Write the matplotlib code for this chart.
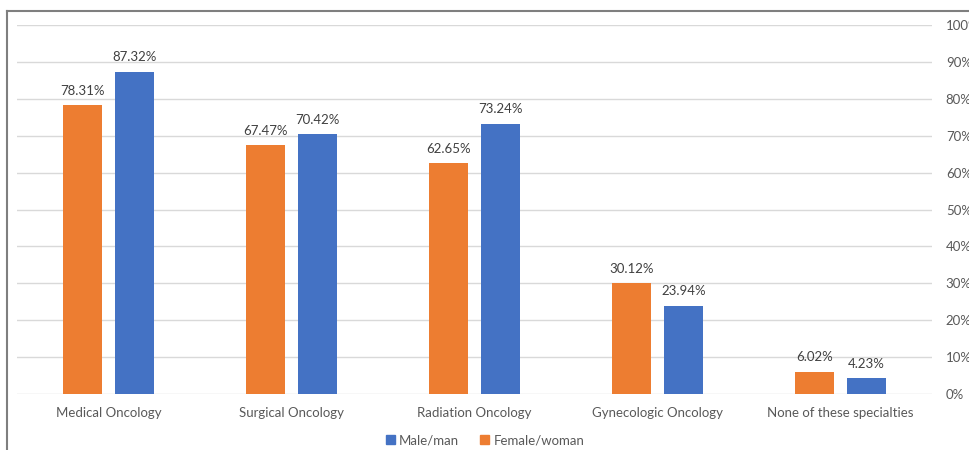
import numpy as np
import matplotlib
matplotlib.use("Agg")
import matplotlib.pyplot as plt
from matplotlib.lines import Line2D
from matplotlib.patches import Patch
from matplotlib.ticker import FuncFormatter

categories = ["Medical Oncology", "Surgical Oncology", "Radiation Oncology",
              "Gynecologic Oncology", "None of these specialties"]
female = [78.31, 67.47, 62.65, 30.12, 6.02]
male = [87.32, 70.42, 73.24, 23.94, 4.23]

ORANGE = "#ED7D31"
BLUE = "#4472C4"
GRID = "#D9D9D9"
TEXT = "#595959"

plt.rcParams["font.family"] = ["Lato", "DejaVu Sans"]

fig = plt.figure(figsize=(9.7, 4.5), dpi=100)
ax = fig.add_axes([0.0175, 0.1244, 0.9433, 0.82])

x = np.arange(len(categories))
w = 0.218
off = 0.142
bf = ax.bar(x - off, female, w, color=ORANGE, zorder=3)
bm = ax.bar(x + off, male, w, color=BLUE, zorder=3)

for bars, vals in ((bf, female), (bm, male)):
    for b, v in zip(bars, vals):
        ax.annotate(f"{v:.2f}%", (b.get_x() + b.get_width() / 2, v),
                    xytext=(0, 6), textcoords="offset points",
                    ha="center", va="bottom", fontsize=9.5, color="#404040")

ax.set_xlim(-0.5, len(categories) - 0.5)
ax.set_ylim(0, 100)
ax.set_yticks(np.arange(0, 101, 10))
ax.yaxis.set_major_formatter(FuncFormatter(lambda v, _: f"{v:.0f}%"))
ax.yaxis.tick_right()
ax.grid(axis="y", color=GRID, linewidth=1, zorder=0)
ax.set_xticks(x)
ax.set_xticklabels(categories)
ax.tick_params(axis="both", length=0, labelsize=9.5, labelcolor=TEXT)
ax.tick_params(axis="y", pad=10)
ax.tick_params(axis="x", pad=9)
for s in ax.spines.values():
    s.set_visible(False)

handles = [Patch(color=BLUE, label="Male/man"), Patch(color=ORANGE, label="Female/woman")]
leg = fig.legend(handles=handles, loc="center", bbox_to_anchor=(0.5, 0.022), ncol=2,
                 frameon=False, fontsize=9.5, handlelength=0.7, handleheight=0.7,
                 handletextpad=0.3, columnspacing=1.6)
for t in leg.get_texts():
    t.set_color(TEXT)

# outer frame (top and left edges)
fig.add_artist(Line2D([7 / 970, 7 / 970], [0, 1 - 11 / 450], color="#7F7F7F",
                      linewidth=1.5, transform=fig.transFigure))
fig.add_artist(Line2D([7 / 970, 1], [1 - 11 / 450, 1 - 11 / 450], color="#7F7F7F",
                      linewidth=1.5, transform=fig.transFigure))

fig.savefig("out.png", dpi=100)
